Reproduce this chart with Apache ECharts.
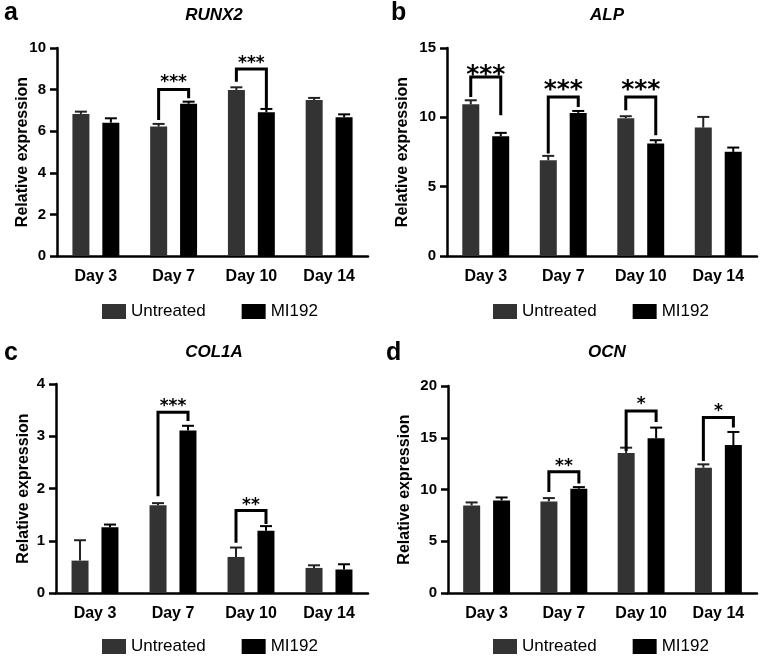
<!DOCTYPE html>
<html>
<head>
<meta charset="utf-8">
<script src="https://cdn.jsdelivr.net/npm/echarts@6/dist/echarts.min.js"></script>
<style>
  html, body { margin: 0; padding: 0; background: #fff; }
  #chart { width: 761px; height: 658px; }
</style>
</head>
<body>
<div id="chart"></div>
<script>
// categories
const days = ['Day 3', 'Day 7', 'Day 10', 'Day 14'];

// RUNX2
const runxUntreated = [6.83, 6.22, 7.98, 7.50];
const runxUntreatedErr = [0.11, 0.13, 0.13, 0.10];
const runxMI = [6.41, 7.32, 6.91, 6.67];
const runxMIErr = [0.21, 0.10, 0.16, 0.14];
// [day, left leg end, top, right leg end, star centre]
const runxBrackets = [[1, 6.54, 8.01, 7.58, 8.51], [2, 8.38, 8.99, 7.10, 9.42]];
const runxStars = ['***', '***'];

// ALP
const alpUntreated = [10.94, 6.91, 9.94, 9.26];
const alpUntreatedErr = [0.29, 0.31, 0.14, 0.77];
const alpMI = [8.64, 10.32, 8.11, 7.51];
const alpMIErr = [0.24, 0.14, 0.24, 0.31];
const alpBrackets = [[0, 11.47, 12.91, 10.15, 13.45], [1, 7.39, 11.47, 10.75, 12.35], [2, 10.51, 11.47, 8.71, 12.35]];
const alpStars = ['***', '***', '***'];

// COL1A
const colUntreated = [0.62, 1.68, 0.69, 0.48];
const colUntreatedErr = [0.39, 0.04, 0.18, 0.05];
const colMI = [1.26, 3.11, 1.19, 0.45];
const colMIErr = [0.05, 0.09, 0.09, 0.10];
const colBrackets = [[1, 1.85, 3.46, 3.29, 3.65], [2, 0.96, 1.58, 1.32, 1.74]];
const colStars = ['***', '**'];

// OCN
const ocnUntreated = [8.46, 8.85, 13.52, 12.11];
const ocnUntreatedErr = [0.29, 0.32, 0.52, 0.32];
const ocnMI = [8.94, 10.07, 14.95, 14.30];
const ocnMIErr = [0.29, 0.16, 1.03, 1.26];
const ocnBrackets = [[1, 9.75, 11.72, 10.59, 12.6], [2, 13.72, 17.59, 16.53, 18.56], [3, 12.75, 16.95, 15.98, 17.9]];
const ocnStars = ['**', '*', '*'];

const FONT = '"Liberation Sans", Arial, Helvetica, sans-serif';
const GREY = '#333333';
const BLACK = '#000000';
const SHIFT = 15; // half distance between the two bars of a day

const panels = [
  { letter: 'a', gene: 'RUNX2', max: 10, step: 2, u: runxUntreated, ue: runxUntreatedErr, m: runxMI, me: runxMIErr, br: runxBrackets, st: runxStars, starSize: 17,
    grid: { left: 57, top: 48, width: 311, height: 208 }, nameGap: 26, legend: { left: 97, top: 298 }, letterPos: [4, 26], genePos: [214, 24] },
  { letter: 'b', gene: 'ALP', max: 15, step: 5, u: alpUntreated, ue: alpUntreatedErr, m: alpMI, me: alpMIErr, br: alpBrackets, st: alpStars, starSize: 25,
    grid: { left: 447, top: 48, width: 310, height: 208 }, nameGap: 36, legend: { left: 488, top: 298 }, letterPos: [391, 26], genePos: [607, 24] },
  { letter: 'c', gene: 'COL1A', max: 4, step: 1, u: colUntreated, ue: colUntreatedErr, m: colMI, me: colMIErr, br: colBrackets, st: colStars, starSize: 17,
    grid: { left: 56, top: 384, width: 312, height: 209 }, nameGap: 24, legend: { left: 97, top: 633 }, letterPos: [4, 366], genePos: [214, 361] },
  { letter: 'd', gene: 'OCN', max: 20, step: 5, u: ocnUntreated, ue: ocnUntreatedErr, m: ocnMI, me: ocnMIErr, br: ocnBrackets, st: ocnStars, starSize: 17,
    grid: { left: 448, top: 386, width: 309, height: 207 }, nameGap: 35, legend: { left: 488, top: 633 }, letterPos: [386, 366], genePos: [607, 361] }
];

function errorRenderer(shift, color) {
  return function (params, api) {
    const x = api.value(0);
    const base = api.coord([x, api.value(1)]);
    const top = api.coord([x, api.value(1) + api.value(2)]);
    const cx = base[0] + shift;
    const style = { stroke: color, lineWidth: 2 };
    return {
      type: 'group',
      children: [
        { type: 'line', shape: { x1: cx, y1: base[1], x2: cx, y2: top[1] }, style: style },
        { type: 'line', shape: { x1: cx - 6, y1: top[1], x2: cx + 6, y2: top[1] }, style: style }
      ]
    };
  };
}

function bracketRenderer(stars, size) {
  return function (params, api) {
    const x = api.value(0);
    const l = api.coord([x, api.value(1)]);
    const t = api.coord([x, api.value(2)]);
    const r = api.coord([x, api.value(3)]);
    const s = api.coord([x, api.value(4)]);
    const x1 = l[0] - SHIFT, x2 = l[0] + SHIFT;
    return {
      type: 'group',
      children: [
        { type: 'polyline', shape: { points: [[x1, l[1]], [x1, t[1]], [x2, t[1]], [x2, r[1]]] },
          style: { stroke: BLACK, lineWidth: 3, fill: null, lineJoin: 'miter' } },
        { type: 'text', x: l[0], y: s[1] + size * 0.23,
          style: { text: stars[params.dataIndex], fill: BLACK, font: 'bold ' + size + 'px "DejaVu Sans"', align: 'center', verticalAlign: 'middle' } }
      ]
    };
  };
}

const grids = [], xAxes = [], yAxes = [], series = [], legends = [], graphics = [];

panels.forEach((p, i) => {
  grids.push(p.grid);
  xAxes.push({
    type: 'category', gridIndex: i, data: days,
    axisLine: { lineStyle: { color: BLACK, width: 2.5 } },
    axisTick: { alignWithLabel: true, length: 7, lineStyle: { color: BLACK, width: 2.5 } },
    axisLabel: { color: BLACK, fontWeight: 'bold', fontSize: 16, fontFamily: FONT, margin: 13 }
  });
  yAxes.push({
    type: 'value', gridIndex: i, min: 0, max: p.max, interval: p.step,
    name: 'Relative expression', nameLocation: 'middle', nameGap: p.nameGap, nameMoveOverlap: false,
    nameTextStyle: { color: BLACK, fontWeight: 'bold', fontSize: 16, fontFamily: FONT },
    splitLine: { show: false },
    axisLine: { show: true, lineStyle: { color: BLACK, width: 2.5 } },
    axisTick: { show: true, length: 7, lineStyle: { color: BLACK, width: 2.5 } },
    axisLabel: { color: BLACK, fontWeight: 'bold', fontSize: 15, fontFamily: FONT, margin: 11 }
  });
  series.push(
    { name: 'Untreated', type: 'bar', xAxisIndex: i, yAxisIndex: i, data: p.u, barWidth: 17, barGap: '76%',
      itemStyle: { color: GREY }, z: 2, animation: false },
    { name: 'MI192', type: 'bar', xAxisIndex: i, yAxisIndex: i, data: p.m, barWidth: 17, barGap: '76%',
      itemStyle: { color: BLACK }, z: 2, animation: false },
    { name: 'err-u-' + i, type: 'custom', xAxisIndex: i, yAxisIndex: i, z: 3, animation: false,
      data: p.u.map((v, k) => [k, v, p.ue[k]]), renderItem: errorRenderer(-SHIFT, '#222222') },
    { name: 'err-m-' + i, type: 'custom', xAxisIndex: i, yAxisIndex: i, z: 3, animation: false,
      data: p.m.map((v, k) => [k, v, p.me[k]]), renderItem: errorRenderer(SHIFT, BLACK) },
    { name: 'sig-' + i, type: 'custom', xAxisIndex: i, yAxisIndex: i, z: 4, animation: false,
      data: p.br, renderItem: bracketRenderer(p.st, p.starSize) }
  );
  legends.push({
    data: ['Untreated', 'MI192'], left: p.legend.left, top: p.legend.top, icon: 'rect',
    itemWidth: 24, itemHeight: 15, itemGap: 36,
    textStyle: { color: BLACK, fontSize: 17, fontFamily: FONT }
  });
  graphics.push(
    { type: 'text', x: p.letterPos[0], y: p.letterPos[1],
      style: { text: p.letter, fill: BLACK, font: 'bold 25px ' + FONT, align: 'left', verticalAlign: 'bottom' } },
    { type: 'text', x: p.genePos[0], y: p.genePos[1],
      style: { text: p.gene, fill: BLACK, font: 'italic bold 17px ' + FONT, align: 'center', verticalAlign: 'bottom' } }
  );
});

const chart = echarts.init(document.getElementById('chart'));
chart.setOption({
  backgroundColor: '#ffffff',
  animation: false,
  grid: grids,
  xAxis: xAxes,
  yAxis: yAxes,
  legend: legends,
  graphic: graphics,
  series: series
});
</script>
</body>
</html>
